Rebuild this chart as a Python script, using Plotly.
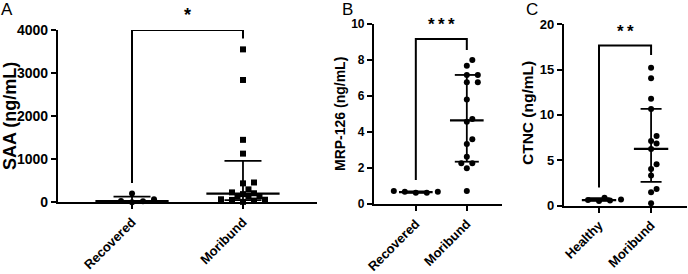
import plotly.graph_objects as go

# ---------------- data ----------------
cats_A = ["Recovered", "Moribund"]
saa_recovered = [0, 23, 30, 70, 205]
saa_moribund = [3550, 2840, 1450, 1130, 460, 440, 300, 230, 210, 190, 140, 130, 130, 70, 60, 55, 40, 10]
saa_median = [30, 200]
saa_low = [0, 50]
saa_high = [130, 960]
saa_sig = "*"
saa_bracket = [450, 4000, 3800]

cats_B = ["Recovered", "Moribund"]
mrp_recovered = [0.62, 0.68, 0.72, 0.68, 0.62]
mrp_moribund = [8.0, 7.68, 7.17, 7.17, 6.76, 6.76, 5.8, 4.72, 4.57, 3.6, 3.33, 2.63, 2.26, 2.26, 1.98, 0.72]
mrp_median = [0.66, 4.65]
mrp_low = [0.62, 2.35]
mrp_high = [0.70, 7.17]
mrp_sig = "*\u2009*\u2009*"
mrp_bracket = [1.33, 9.17, 8.55]

cats_C = ["Healthy", "Moribund"]
ctnc_healthy = [0.55, 0.85, 0.65, 0.6, 0.5]
ctnc_moribund = [15.2, 14.05, 11.77, 10.66, 7.68, 7.13, 6.83, 6.24, 4.55, 4.03, 3.3, 1.82, 1.46, 0.24]
ctnc_median = [0.6, 6.24]
ctnc_low = [0.5, 2.6]
ctnc_high = [0.8, 10.66]
ctnc_sig = "*\u2009*"
ctnc_bracket = [2.0, 17.66, 16.6]

W, H = 688, 274
FONT = "Liberation Sans, Arial, sans-serif"


def swarm_offsets(vals, ypx, xpx, step=5.5, mind=6.0):
    order = sorted(range(len(vals)), key=lambda i: vals[i])
    placed = []
    offs = [0.0] * len(vals)
    cands = [0] + [s * j for j in range(1, 30) for s in (1, -1)]
    for i in order:
        y = vals[i] * ypx
        x = 0.0
        for c in cands:
            x = c * step
            if all((x - px) ** 2 + (y - py) ** 2 >= mind ** 2 for px, py in placed):
                break
        placed.append((x, y))
        offs[i] = x / xpx
    return offs


panels = [
    dict(ax="", cats=cats_A, groups=[saa_recovered, saa_moribund], symbols=["circle", "square"],
         med=saa_median, lo=saa_low, hi=saa_high, sig=saa_sig, br=saa_bracket,
         xpx=(58, 317), ypx=(202.3, 30), xr=[-0.667, 1.667], yr=[0, 4000], dtick=1000,
         title="SAA (ng/mL)", tfs=18, tpos=(10, 116), letter="A", lpos=(7, 9), cap=18.5, tickfs=14,
         sigfs=18, msize=6),
    dict(ax="2", cats=cats_B, groups=[mrp_recovered, mrp_moribund], symbols=["circle", "circle"],
         med=mrp_median, lo=mrp_low, hi=mrp_high, sig=mrp_sig, br=mrp_bracket,
         xpx=(374, 502), ypx=(204, 24), xr=[-0.82, 1.69], yr=[0, 10], dtick=2,
         title="MRP-126 (ng/mL)", tfs=14, tpos=(340, 114), letter="B", lpos=(347, 9), cap=12, tickfs=12,
         sigfs=17, msize=6),
    dict(ax="3", cats=cats_C, groups=[ctnc_healthy, ctnc_moribund], symbols=["circle", "circle"],
         med=ctnc_median, lo=ctnc_low, hi=ctnc_high, sig=ctnc_sig, br=ctnc_bracket,
         xpx=(564, 687), ypx=(205.5, 24.3), xr=[-0.673, 1.69], yr=[0, 20], dtick=5,
         title="CTNC (ng/mL)", tfs=15.5, tpos=(527, 113), letter="C", lpos=(532, 9), cap=10.5, tickfs=13,
         sigfs=17, msize=6),
]

fig = go.Figure()
annotations = []
layout = {}

for p in panels:
    xa, ya = "x" + p["ax"], "y" + p["ax"]
    x0, x1 = p["xpx"]
    yb, yt = p["ypx"]
    xunit = (x1 - x0) / (p["xr"][1] - p["xr"][0])  # px per category unit
    yunit = (yb - yt) / (p["yr"][1] - p["yr"][0])  # px per value unit

    # points
    for i, (vals, sym) in enumerate(zip(p["groups"], p["symbols"])):
        offs = swarm_offsets(vals, yunit, xunit)
        fig.add_trace(go.Scatter(
            x=[i + o for o in offs], y=vals, mode="markers", xaxis=xa, yaxis=ya,
            marker=dict(symbol=sym, size=p["msize"], color="black", line=dict(width=0)),
            cliponaxis=False, showlegend=False, hoverinfo="skip"))

    # median lines
    mx, my = [], []
    for i, m in enumerate(p["med"]):
        mx += [i - 0.33, i + 0.33, None]
        my += [m, m, None]
    fig.add_trace(go.Scatter(x=mx, y=my, mode="lines", xaxis=xa, yaxis=ya,
                             line=dict(color="black", width=2.2), cliponaxis=False,
                             showlegend=False, hoverinfo="skip"))
    # error bars
    ex, ey = [], []
    c = p["cap"] / xunit
    for i, (lo, hi) in enumerate(zip(p["lo"], p["hi"])):
        ex += [i, i, None, i - c, i + c, None, i - c, i + c, None]
        ey += [lo, hi, None, hi, hi, None, lo, lo, None]
    fig.add_trace(go.Scatter(x=ex, y=ey, mode="lines", xaxis=xa, yaxis=ya,
                             line=dict(color="black", width=1.8), cliponaxis=False,
                             showlegend=False, hoverinfo="skip"))
    # significance bracket
    lleg, top, rleg = p["br"]
    fig.add_trace(go.Scatter(x=[0, 0, 1, 1], y=[lleg, top, top, rleg], mode="lines",
                             xaxis=xa, yaxis=ya, line=dict(color="black", width=2),
                             cliponaxis=False, showlegend=False, hoverinfo="skip"))
    annotations.append(dict(x=0.5, y=top, xref=xa, yref=ya, text=p["sig"], showarrow=False,
                            yanchor="bottom", yshift=3,
                            font=dict(family=FONT, size=p["sigfs"], color="black", weight="bold")))
    # y title
    annotations.append(dict(x=p["tpos"][0] / W, y=1 - p["tpos"][1] / H, xref="paper", yref="paper",
                            text=p["title"], textangle=-90, showarrow=False,
                            xanchor="center", yanchor="middle",
                            font=dict(family=FONT, size=p["tfs"], color="black", weight="bold")))
    # panel letter
    annotations.append(dict(x=p["lpos"][0] / W, y=1 - p["lpos"][1] / H, xref="paper", yref="paper",
                            text=p["letter"], showarrow=False, xanchor="center", yanchor="middle",
                            font=dict(family=FONT, size=17, color="black")))

    axcommon = dict(showline=True, linecolor="black", linewidth=2.2, ticks="outside",
                    ticklen=5, tickwidth=2.2, tickcolor="black", showgrid=False, zeroline=False,
                    fixedrange=True, automargin=False)
    layout["xaxis" + p["ax"]] = dict(
        domain=[x0 / W, x1 / W], range=p["xr"], anchor=ya, tickmode="array",
        tickvals=[0, 1], ticktext=p["cats"], tickangle=-45, ticklabelstandoff=0,
        tickfont=dict(family=FONT, size=13, color="black", weight="bold"), **axcommon)
    layout["yaxis" + p["ax"]] = dict(
        domain=[1 - yb / H, 1 - yt / H], range=p["yr"], anchor=xa, dtick=p["dtick"],
        tickfont=dict(family=FONT, size=p["tickfs"], color="black", weight="bold"), **axcommon)

fig.update_layout(width=W, height=H, margin=dict(l=0, r=0, t=0, b=0, autoexpand=False),
                  paper_bgcolor="white", plot_bgcolor="white",
                  annotations=annotations, **layout)
fig.write_html("out.html")
